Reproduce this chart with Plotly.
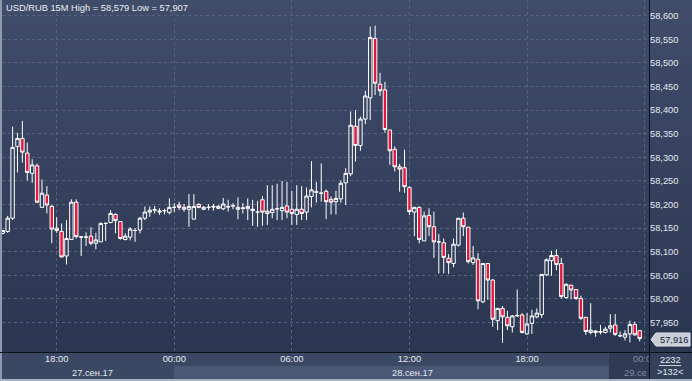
import pandas as pd
import plotly.graph_objects as go

# ---------------- data (USD/RUB, 15-minute candles) ----------------
START = "2017-09-27 15:15"
OPEN = [58.139, 58.143, 58.171, 58.323, 58.340, 58.309, 58.266, 58.282, 58.194, 58.220,
        58.196, 58.150, 58.143, 58.091, 58.126, 58.205, 58.132, 58.131, 58.133, 58.118,
        58.121, 58.160, 58.162, 58.179, 58.164, 58.126, 58.131, 58.145, 58.146, 58.171,
        58.184, 58.188, 58.184, 58.187, 58.183, 58.194, 58.199, 58.190, 58.190, 58.169,
        58.200, 58.190, 58.194, 58.196, 58.192, 58.191, 58.196, 58.198, 58.190, 58.193,
        58.191, 58.187, 58.184, 58.210, 58.181, 58.183, 58.191, 58.187, 58.197, 58.190,
        58.179, 58.190, 58.184, 58.217, 58.226, 58.224, 58.228, 58.211, 58.206, 58.212,
        58.246, 58.265, 58.366, 58.325, 58.381, 58.426, 58.552, 58.455, 58.443, 58.358,
        58.317, 58.280, 58.278, 58.236, 58.184, 58.194, 58.123, 58.177, 58.153, 58.121,
        58.119, 58.086, 58.075, 58.114, 58.171, 58.152, 58.077, 58.084, 57.994, 58.075,
        58.040, 57.954, 57.980, 57.961, 57.941, 57.964, 57.966, 57.926, 57.948, 57.962,
        57.967, 58.051, 58.081, 58.092, 58.075, 58.003, 58.029, 58.020, 58.001, 57.961,
        57.929, 57.929, 57.931, 57.929, 57.938, 57.945, 57.922, 57.919, 57.926, 57.946,
        57.933]
HIGH = [58.146, 58.176, 58.365, 58.352, 58.377, 58.331, 58.296, 58.287, 58.253, 58.239,
        58.199, 58.173, 58.160, 58.167, 58.211, 58.211, 58.133, 58.141, 58.152, 58.140,
        58.162, 58.162, 58.188, 58.181, 58.165, 58.139, 58.152, 58.150, 58.174, 58.196,
        58.196, 58.197, 58.192, 58.191, 58.213, 58.203, 58.206, 58.201, 58.222, 58.222,
        58.203, 58.197, 58.201, 58.201, 58.199, 58.214, 58.210, 58.203, 58.215, 58.203,
        58.213, 58.210, 58.208, 58.218, 58.241, 58.241, 58.244, 58.250, 58.248, 58.229,
        58.241, 58.239, 58.236, 58.292, 58.248, 58.287, 58.232, 58.217, 58.229, 58.251,
        58.277, 58.397, 58.400, 58.386, 58.441, 58.577, 58.579, 58.479, 58.460, 58.358,
        58.323, 58.286, 58.316, 58.239, 58.195, 58.196, 58.185, 58.192, 58.185, 58.138,
        58.128, 58.095, 58.128, 58.171, 58.183, 58.152, 58.112, 58.097, 58.075, 58.075,
        58.042, 57.980, 57.985, 57.975, 57.966, 58.020, 57.970, 57.970, 57.977, 57.980,
        58.052, 58.086, 58.102, 58.105, 58.087, 58.033, 58.030, 58.020, 58.007, 57.962,
        57.991, 57.934, 57.945, 57.941, 57.968, 57.968, 57.931, 57.934, 57.954, 57.952,
        57.934]
LOW = [58.137, 58.140, 58.167, 58.268, 58.289, 58.251, 58.246, 58.203, 58.193, 58.181,
       58.118, 58.140, 58.088, 58.073, 58.126, 58.128, 58.091, 58.112, 58.114, 58.105,
       58.121, 58.123, 58.160, 58.139, 58.126, 58.124, 58.124, 58.121, 58.139, 58.167,
       58.174, 58.181, 58.178, 58.179, 58.179, 58.184, 58.188, 58.185, 58.153, 58.169,
       58.192, 58.188, 58.188, 58.187, 58.190, 58.188, 58.185, 58.190, 58.169, 58.181,
       58.167, 58.155, 58.153, 58.155, 58.157, 58.171, 58.167, 58.167, 58.171, 58.157,
       58.157, 58.167, 58.167, 58.194, 58.204, 58.206, 58.169, 58.179, 58.179, 58.204,
       58.199, 58.260, 58.291, 58.314, 58.370, 58.379, 58.432, 58.430, 58.352, 58.284,
       58.270, 58.227, 58.225, 58.178, 58.133, 58.118, 58.123, 58.133, 58.087, 58.054,
       58.054, 58.053, 58.067, 58.111, 58.133, 58.075, 58.072, 57.978, 57.991, 57.998,
       57.941, 57.934, 57.907, 57.934, 57.929, 57.962, 57.927, 57.924, 57.926, 57.959,
       57.960, 58.049, 58.049, 58.061, 58.001, 58.000, 57.999, 57.998, 57.955, 57.924,
       57.925, 57.920, 57.925, 57.927, 57.929, 57.922, 57.919, 57.912, 57.908, 57.922,
       57.910]
CLOSE = [58.145, 58.171, 58.321, 58.340, 58.311, 58.268, 58.284, 58.205, 58.224, 58.199,
         58.148, 58.145, 58.089, 58.128, 58.205, 58.132, 58.131, 58.131, 58.118, 58.125,
         58.160, 58.160, 58.181, 58.166, 58.128, 58.133, 58.148, 58.145, 58.171, 58.184,
         58.188, 58.189, 58.186, 58.187, 58.194, 58.194, 58.194, 58.194, 58.196, 58.196,
         58.194, 58.194, 58.194, 58.195, 58.196, 58.201, 58.195, 58.197, 58.194, 58.192,
         58.196, 58.190, 58.184, 58.184, 58.186, 58.190, 58.191, 58.194, 58.184, 58.181,
         58.190, 58.181, 58.218, 58.231, 58.227, 58.224, 58.206, 58.205, 58.213, 58.245,
         58.266, 58.368, 58.325, 58.381, 58.430, 58.554, 58.457, 58.441, 58.359, 58.314,
         58.280, 58.275, 58.238, 58.185, 58.194, 58.126, 58.176, 58.153, 58.121, 58.121,
         58.088, 58.077, 58.116, 58.171, 58.153, 58.079, 58.087, 57.996, 58.075, 58.040,
         57.957, 57.980, 57.962, 57.943, 57.964, 57.965, 57.929, 57.947, 57.964, 57.970,
         58.052, 58.083, 58.092, 58.073, 58.005, 58.031, 58.019, 58.001, 57.959, 57.931,
         57.934, 57.932, 57.930, 57.936, 57.943, 57.925, 57.922, 57.926, 57.946, 57.924,
         57.916]

TITLE = "USD/RUB 15M High = 58,579 Low = 57,907"
Y_TICKS = [57.95, 58.00, 58.05, 58.10, 58.15, 58.20, 58.25, 58.30, 58.35, 58.40,
           58.45, 58.50, 58.55, 58.60]
X_TICKS = ["2017-09-27 18:00", "2017-09-28 00:00", "2017-09-28 06:00",
           "2017-09-28 12:00", "2017-09-28 18:00", "2017-09-29 00:00"]
X_TICK_TEXT = ["18:00", "00:00", "06:00", "12:00", "18:00",
               "<span style='color:#7f8ba0'>00:00</span>"]
DATE_LABELS = ["27.сен.17", "28.сен.17", "29.се"]
LAST_PRICE = "57,916"
BOX_TOP = "2232"
BOX_BOTTOM = ">132<"

times = pd.date_range(START, periods=len(OPEN), freq="15min")

# ---------------- geometry helpers (pixel -> paper) ----------------
W, H = 692, 381
ML, MR, MT, MB = 2, 43, 0, 29
PW, PH = W - ML - MR, H - MT - MB


def PX(px):
    return (px - ML) / PW


def PY(py):
    return (MT + PH - py) / PH


FONT = "Liberation Sans, Arial, sans-serif"
FS = 9.3

shapes = []


def rect(x0, y0, x1, y1, color, layer="below"):
    shapes.append(dict(type="rect", xref="paper", yref="paper",
                       x0=PX(x0), x1=PX(x1), y0=PY(y1), y1=PY(y0),
                       fillcolor=color, line=dict(width=0), layer=layer))


# background gradient (plot + price axis)
top = (63, 76, 106)
bot = (43, 54, 81)
N = 44
for i in range(N):
    t = i / (N - 1)
    c = tuple(round(top[k] + (bot[k] - top[k]) * t) for k in range(3))
    rect(0, i * 8, W, i * 8 + 8, "rgb(%d,%d,%d)" % c)

# time axis strip
rect(0, 352, W, 379, "#3b4863")
rect(174, 366, 609, 379, "#4a5876")
rect(609, 352, 649, 379, "#2f3a53")
# right bottom box (above, to clip the last tick label)
rect(649, 352, W, 379, "#33405a", layer="above")
# borders
rect(0, 0, 2, H, "#8e99ac", layer="above")
rect(0, 379, W, H, "#a7b0bf", layer="above")
# separators
shapes.append(dict(type="line", xref="paper", yref="paper", x0=PX(0), x1=PX(W),
                   y0=PY(352.5), y1=PY(352.5), line=dict(color="#0c1018", width=1), layer="above"))
shapes.append(dict(type="line", xref="paper", yref="paper", x0=PX(649.5), x1=PX(649.5),
                   y0=PY(0), y1=PY(379), line=dict(color="#0c1018", width=1), layer="above"))
# underline in right box
shapes.append(dict(type="line", xref="paper", yref="paper", x0=PX(659), x1=PX(681),
                   y0=PY(365.5), y1=PY(365.5), line=dict(color="#c9d0dc", width=1), layer="above"))
# last price marker
mx0, mx1, my0, my1, tipx = 656, 690, 333, 346, 651
path = "M %f %f L %f %f L %f %f L %f %f L %f %f Z" % (
    PX(tipx), PY(339.5), PX(mx0), PY(my0), PX(mx1), PY(my0), PX(mx1), PY(my1), PX(mx0), PY(my1))
shapes.append(dict(type="path", xref="paper", yref="paper", path=path,
                   fillcolor="#c9cdd5", line=dict(color="#e4e7ec", width=1), layer="above"))

annotations = [
    dict(text=TITLE, xref="paper", yref="paper", x=PX(4), y=PY(8), xanchor="left",
         yanchor="middle", showarrow=False, font=dict(family=FONT, size=FS, color="#e9eef6")),
    dict(text=DATE_LABELS[0], xref="paper", yref="paper", x=PX(92), y=PY(372.5),
         xanchor="center", yanchor="middle", showarrow=False,
         font=dict(family=FONT, size=FS, color="#e3e8f0")),
    dict(text=DATE_LABELS[1], xref="paper", yref="paper", x=PX(412), y=PY(372.5),
         xanchor="center", yanchor="middle", showarrow=False,
         font=dict(family=FONT, size=FS, color="#e3e8f0")),
    dict(text=DATE_LABELS[2], xref="paper", yref="paper", x=PX(648.5), y=PY(372.5),
         xanchor="right", yanchor="middle", showarrow=False,
         font=dict(family=FONT, size=FS, color="#7f8ba0")),
    dict(text=LAST_PRICE, xref="paper", yref="paper", x=PX(673.5), y=PY(339.5),
         xanchor="center", yanchor="middle", showarrow=False,
         font=dict(family=FONT, size=FS, color="#17213a")),
    dict(text=BOX_TOP, xref="paper", yref="paper", x=PX(670), y=PY(360),
         xanchor="center", yanchor="middle", showarrow=False,
         font=dict(family=FONT, size=FS, color="#e3e8f0")),
    dict(text=BOX_BOTTOM, xref="paper", yref="paper", x=PX(670.5), y=PY(372),
         xanchor="center", yanchor="middle", showarrow=False,
         font=dict(family=FONT, size=FS, color="#e3e8f0")),
]

fig = go.Figure(go.Candlestick(
    x=times, open=OPEN, high=HIGH, low=LOW, close=CLOSE,
    increasing=dict(line=dict(color="#ffffff", width=1), fillcolor="rgba(0,0,0,0)"),
    decreasing=dict(line=dict(color="#ffffff", width=1), fillcolor="#e2173b"),
    whiskerwidth=0, hoverinfo="skip", showlegend=False,
))

x_start = pd.Timestamp(START) - pd.Timedelta(seconds=144)
x_end = pd.Timestamp("2017-09-29 00:13:30")

fig.update_layout(
    width=W, height=H,
    margin=dict(l=ML, r=MR, t=MT, b=MB, pad=0),
    paper_bgcolor="#3b4863",
    plot_bgcolor="rgba(0,0,0,0)",
    separators=",.",
    boxgap=0.3, boxgroupgap=0,
    shapes=shapes,
    annotations=annotations,
    showlegend=False,
    xaxis=dict(
        type="date", range=[x_start, x_end],
        tickmode="array", tickvals=X_TICKS, ticktext=X_TICK_TEXT,
        showgrid=True, gridcolor="#56647f", griddash="3px,3px", gridwidth=1,
        zeroline=False, showline=False, ticks="",
        tickfont=dict(family=FONT, size=FS, color="#e3e8f0"),
        rangeslider=dict(visible=False), fixedrange=True,
    ),
    yaxis=dict(
        side="right", range=[57.8876, 58.6333],
        tickmode="array", tickvals=Y_TICKS, tickformat=".3f",
        showgrid=True, gridcolor="#56647f", griddash="3px,3px", gridwidth=1,
        zeroline=False, showline=False, ticks="",
        tickfont=dict(family=FONT, size=FS, color="#e3e8f0"),
        fixedrange=True,
    ),
)

fig.write_html(
    "out.html",
    config={"displayModeBar": False, "staticPlot": True},
    post_script="document.body.style.margin='0';document.body.style.padding='0';",
)
